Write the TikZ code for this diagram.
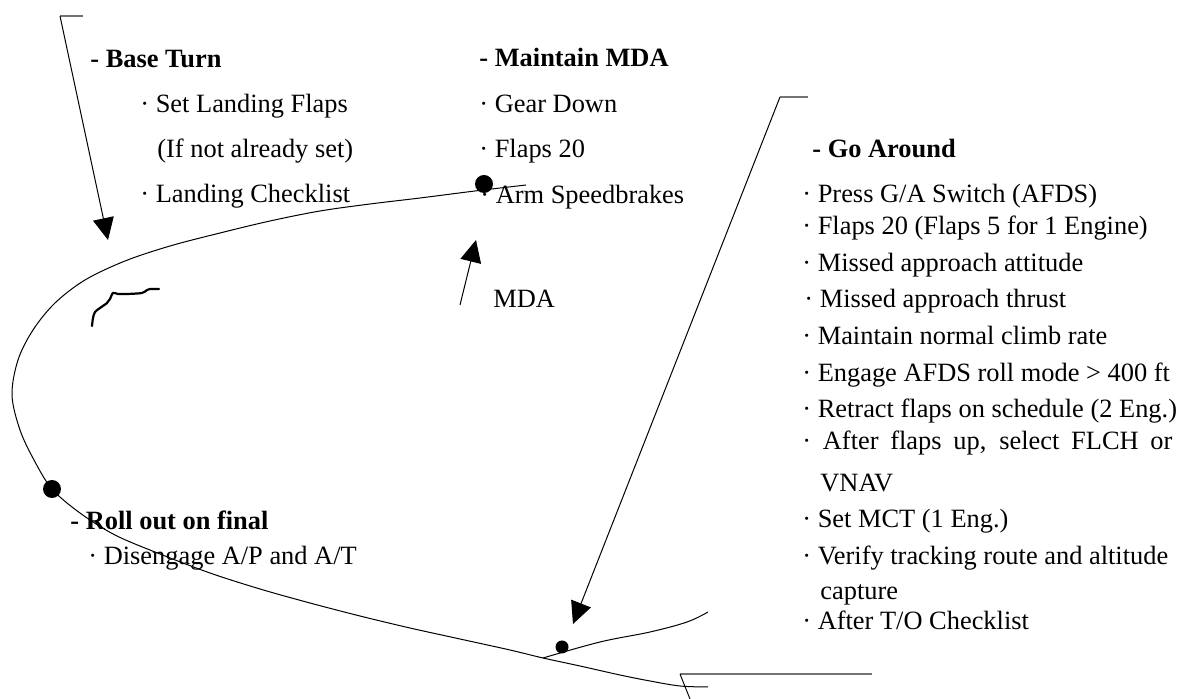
\documentclass[tikz,border=0pt]{standalone}
\usepackage{fontspec}
\setmainfont{Liberation Serif}
\usepackage{tikz}
\usetikzlibrary{arrows.meta}
\tikzstyle{item}=[anchor=base west,inner sep=0pt,font=\fontsize{13.2}{16}\selectfont]
\tikzstyle{head}=[anchor=base west,inner sep=0pt,font=\fontsize{13.2}{16}\selectfont\bfseries]
\tikzstyle{spot}=[circle,fill=black,minimum size=9pt,inner sep=0pt]
\tikzstyle{track}=[draw,line width=0.5pt]
\tikzstyle{tab}=[draw,black!55,line width=0.7pt]

\begin{document}
\begin{tikzpicture}[x=0.5pt,y=-0.5pt]
        \tikzset{pointer/.style = {draw,line width=0.5pt,-{Triangle[length=11pt,width=10.5pt]}}}
        \useasboundingbox (0,0) rectangle (1179,699);
        % base turn
        \node[head] (base) at (90,68) {- Base Turn};
        \node[item] (base1) at (140,113) {· Set Landing Flaps};
        \node[item] (base2) at (157,158) {(If not already set)};
        \node[item] (base3) at (140,203) {· Landing Checklist};
        % maintain mda
        \node[head] (mda) at (479,67) {- Maintain MDA};
        \node[item] (mda1) at (479,113) {· Gear Down};
        \node[item] (mda2) at (479,158) {· Flaps 20};
        \node[item] (mda3) at (480,204) {· Arm Speedbrakes};
        \node[item] (mdalabel) at (493,308) {MDA};
        % go around
        \node[head] (ga) at (812,158) {- Go Around};
        \node[item] (ga1) at (802,203) {· Press G/A Switch (AFDS)};
        \node[item] (ga2) at (802,235) {· Flaps 20 (Flaps 5 for 1 Engine)};
        \node[item] (ga3) at (802,272) {· Missed approach attitude};
        \node[item] (ga4) at (804,308) {· Missed approach thrust};
        \node[item] (ga5) at (802,345) {· Maintain normal climb rate};
        \node[item] (ga6) at (802,382) {· Engage AFDS roll mode > 400 ft};
        \node[item] (ga7) at (802,418) {· Retract flaps on schedule (2 Eng.)};
        \node[item] (ga8) at (802,450) {\makebox[185pt][s]{· After flaps up, select FLCH or}};
        \node[item] (ga8b) at (820,492) {VNAV};
        \node[item] (ga9) at (802,528) {· Set MCT (1 Eng.)};
        \node[item] (ga10) at (802,565) {· Verify tracking route and altitude};
        \node[item] (ga10b) at (820,600) {capture};
        \node[item] (ga11) at (802,630) {· After T/O Checklist};
        % roll out
        \node[head] (roll) at (70,530) {- Roll out on final};
        \node[item] (roll1) at (88,565) {· Disengage A/P and A/T};
        % flight path
        \draw[track] plot[smooth,tension=0.55] coordinates {(526,185) (475,191) (420,198) (370,204)
          (320,211) (270,221) (220,233) (170,246) (125,261) (85,280) (55,303) (33,330) (18,360)
          (12,395) (20,430) (34,460) (52,489) (80,513) (115,535) (160,554) (210,573) (260,589)
          (310,603) (360,616) (410,628) (460,639) (510,650) (543,658) (580,666) (620,675)
          (650,681) (680,686) (708,687)};
        \draw[track] plot[smooth,tension=0.6] coordinates {(543,658) (600,642) (650,632) (687,622) (708,612)};
        \draw[line width=1.1pt,line cap=round] plot[smooth,tension=0.5] coordinates {(92,326) (93,318)
          (95,312) (100,308) (107,303) (110,299) (113,293) (118,294) (127,294) (142,293) (147,290)
          (150,289) (159,289)};
        \node[spot] (mdadot) at (484,184) {};
        \node[spot] (rolldot) at (52,489) {};
        \node[spot,minimum size=6.5pt] (gadot) at (562,647) {};
        % pointers
        \coordinate (tlcorner) at (60,16);
        \coordinate (tltab) at (83,16);
        \coordinate (basetip) at (108,240);
        \coordinate (trcorner) at (780,97);
        \coordinate (trtab) at (808,97);
        \coordinate (gatip) at (573,624);
        \coordinate (mdafoot) at (460,305);
        \coordinate (mdatip) at (476,240);
        \coordinate (btcorner) at (680,674);
        \coordinate (bttab) at (872,674);
        \coordinate (btfoot) at (690,699);
        \draw[tab] (tlcorner) -- (tltab);
        \draw[tab] (trcorner) -- (trtab);
        \draw[tab] (btcorner) -- (bttab);
        \draw[pointer] (tlcorner) -- (basetip);
        \draw[pointer] (trcorner) -- (gatip);
        \draw[pointer] (mdafoot) -- (mdatip);
        \draw[track] (btcorner) -- (btfoot);
      \end{tikzpicture}
\end{document}
